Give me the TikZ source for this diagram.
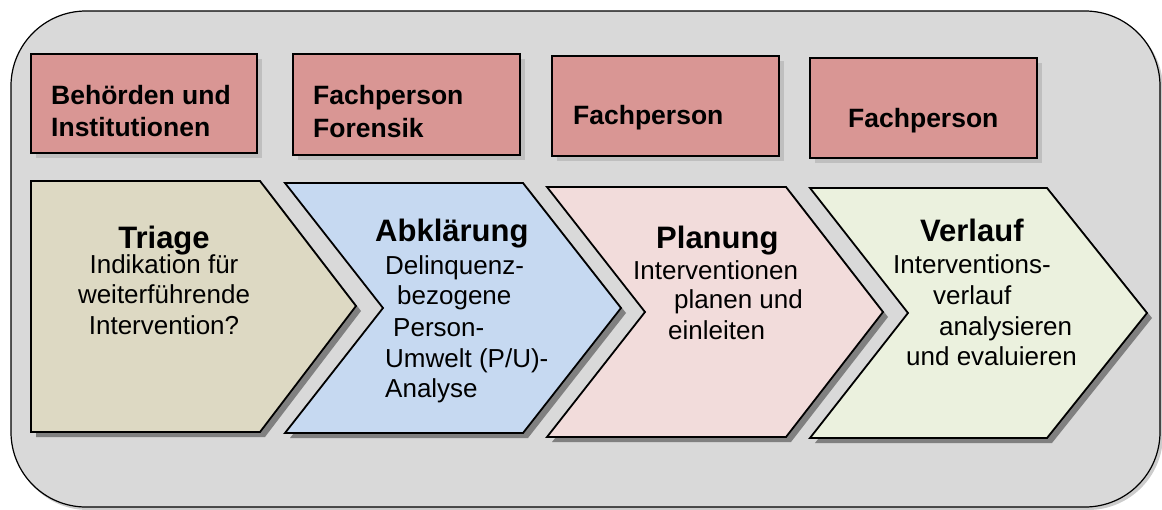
\documentclass[tikz,border=0pt]{standalone}
\usepackage{fontspec}
\setmainfont{Liberation Sans}
\definecolor{bggray}{HTML}{D9D9D9}
\definecolor{boxred}{HTML}{D99694}
\definecolor{cbeige}{HTML}{DDD9C3}
\definecolor{cblue}{HTML}{C6D9F1}
\definecolor{cpink}{HTML}{F2DCDB}
\definecolor{cgreen}{HTML}{EBF1DE}
\definecolor{shdark}{HTML}{808080}
\definecolor{shlight}{HTML}{BFBFBF}
\tikzset{
  chev/.style={draw=black, line width=1.8pt, line join=miter},
  chevshadow/.style={fill=shdark, draw=none},
  topbox/.style={draw=black, line width=1.3pt, fill=boxred},
  topshadow/.style={fill=shlight, draw=none},
  boxtxt/.style={inner sep=0pt, anchor=base west, font=\fontsize{26.5}{30}\selectfont\bfseries},
  titletxt/.style={inner sep=0pt, font=\fontsize{31}{36}\selectfont\bfseries},
  bodytxt/.style={inner sep=0pt, font=\fontsize{26}{30}\selectfont},
}
\begin{document}
\begin{tikzpicture}[x=1pt,y=-1pt]
\useasboundingbox (0,0) rectangle (1162,509);
% outer panel
\fill[black!20, rounded corners=75pt] (13,14) rectangle (1163,510);
\draw[fill=bggray, line width=1.2pt, rounded corners=75pt] (11,11) rectangle (1160,507);

% top boxes
\fill[topshadow] (36,59) rectangle (262,158);
\draw[topbox] (31,54) rectangle (257,153);
\fill[topshadow] (298,59) rectangle (525,160);
\draw[topbox] (293,54) rectangle (520,155);
\fill[topshadow] (557,61) rectangle (784,161);
\draw[topbox] (552,56) rectangle (779,156);
\fill[topshadow] (815,63) rectangle (1042,163);
\draw[topbox] (810,58) rectangle (1037,158);

\node[boxtxt] (b1a) at (51,104) {Behörden und};
\node[boxtxt] (b1b) at (51,136) {Institutionen};
\node[boxtxt] (b2a) at (313,104) {Fachperson};
\node[boxtxt] (b2b) at (313,137) {Forensik};
\node[boxtxt] (b3) at (573,124) {Fachperson};
\node[boxtxt] (b4) at (848,127) {Fachperson};

% chevrons: shadows
\fill[chevshadow] (36,186) -- (265,186) -- (361,311) -- (265,437) -- (36,437) -- cycle;
\fill[chevshadow] (290,188) -- (528,188) -- (626,313) -- (528,438) -- (290,438) -- (388,313) -- cycle;
\fill[chevshadow] (552,192) -- (791,192) -- (888,317) -- (791,442) -- (552,442) -- (650,317) -- cycle;
\fill[chevshadow] (815,193) -- (1052,193) -- (1152,318) -- (1052,443) -- (815,443) -- (913,318) -- cycle;

% chevrons
\draw[chev, fill=cbeige] (31,181) -- (260,181) -- (356,306) -- (260,432) -- (31,432) -- cycle;
\draw[chev, fill=cblue] (285,183) -- (523,183) -- (621,308) -- (523,433) -- (285,433) -- (383,308) -- cycle;
\draw[chev, fill=cpink] (547,187) -- (786,187) -- (883,312) -- (786,437) -- (547,437) -- (645,312) -- cycle;
\draw[chev, fill=cgreen] (810,188) -- (1047,188) -- (1147,313) -- (1047,438) -- (810,438) -- (908,313) -- cycle;

% Triage
\node[titletxt, anchor=base] (t1) at (164,248) {Triage};
\node[bodytxt, anchor=base] (t1a) at (164,273) {Indikation für};
\node[bodytxt, anchor=base] (t1b) at (164,303) {weiterführende};
\node[bodytxt, anchor=base] (t1c) at (164,334) {Intervention?};

% Abklaerung
\node[titletxt, anchor=base west] (t2) at (375,241) {Abklärung};
\node[bodytxt, anchor=base west] (t2a) at (385,274) {Delinquenz-};
\node[bodytxt, anchor=base west] (t2b) at (397,304) {bezogene};
\node[bodytxt, anchor=base west] (t2c) at (393,336) {Person-};
\node[bodytxt, anchor=base west] (t2d) at (385,367) {Umwelt (P/U)-};
\node[bodytxt, anchor=base west] (t2e) at (385,397) {Analyse};

% Planung
\node[titletxt, anchor=base west] (t3) at (656,248) {Planung};
\node[bodytxt, anchor=base west] (t3a) at (633,279) {Interventionen};
\node[bodytxt, anchor=base west] (t3b) at (674,308) {planen und};
\node[bodytxt, anchor=base west] (t3c) at (668,339) {einleiten};

% Verlauf
\node[titletxt, anchor=base west] (t4) at (920,241) {Verlauf};
\node[bodytxt, anchor=base west] (t4a) at (893,273) {Interventions-};
\node[bodytxt, anchor=base west] (t4b) at (933,304) {verlauf};
\node[bodytxt, anchor=base west] (t4c) at (939,335) {analysieren};
\node[bodytxt, anchor=base west] (t4d) at (906,365) {und evaluieren};
\end{tikzpicture}
\end{document}
